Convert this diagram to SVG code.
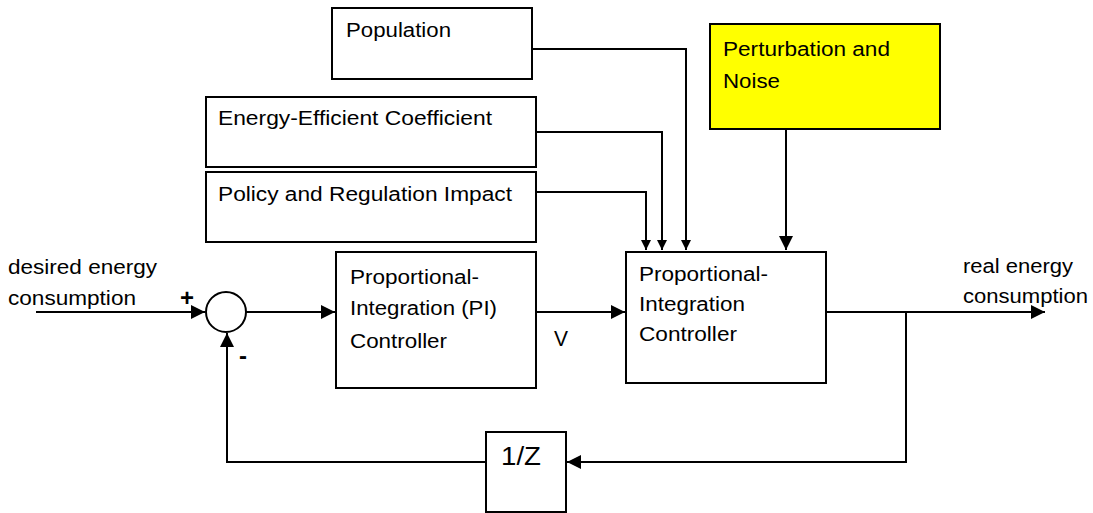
<svg xmlns="http://www.w3.org/2000/svg" width="1093" height="513" viewBox="0 0 1093 513">
<style>
.box{fill:#fff;stroke:#000;stroke-width:2}
.yel{fill:#ffff00;stroke:#000;stroke-width:2}
.ln{fill:none;stroke:#000;stroke-width:2}
text{font-family:"Liberation Sans",Arial,sans-serif;font-size:20px;fill:#000}
</style>
<defs>
<marker id="aS" markerUnits="userSpaceOnUse" markerWidth="12" markerHeight="12" refX="10" refY="5" orient="auto"><path d="M0,0 L10,5 L0,10 z" fill="#000"/></marker>
<marker id="aL" markerUnits="userSpaceOnUse" markerWidth="16" markerHeight="16" refX="14" refY="7" orient="auto"><path d="M0,0 L14,7 L0,14 z" fill="#000"/></marker>
</defs>
<rect width="1093" height="513" fill="#fff"/>
<g id="connectors">
<path class="ln" d="M532,49 H686 V250" marker-end="url(#aS)"/>
<path class="ln" d="M536,132 H662 V250" marker-end="url(#aS)"/>
<path class="ln" d="M536,192 H646 V250" marker-end="url(#aS)"/>
<path class="ln" d="M786,102 V250" marker-end="url(#aL)"/>
<path class="ln" d="M36,312 H205" marker-end="url(#aL)"/>
<path class="ln" d="M246,312 H335" marker-end="url(#aL)"/>
<path class="ln" d="M536,312 H625" marker-end="url(#aL)"/>
<path class="ln" d="M826,312 H1045" marker-end="url(#aL)"/>
<path class="ln" d="M906,312 V462 H567" marker-end="url(#aL)"/>
<path class="ln" d="M486,462 H227 V333" marker-end="url(#aL)"/>
</g>
<g id="population"><rect class="box" x="332" y="8" width="200" height="71"/><text x="346" y="37" textLength="105" lengthAdjust="spacingAndGlyphs">Population</text></g>
<g id="energy-efficient"><rect class="box" x="206" y="97" width="330" height="70"/><text x="218" y="125" textLength="274" lengthAdjust="spacingAndGlyphs">Energy-Efficient Coefficient</text></g>
<g id="policy"><rect class="box" x="206" y="172" width="330" height="70"/><text x="218" y="201" textLength="294" lengthAdjust="spacingAndGlyphs">Policy and Regulation Impact</text></g>
<g id="perturbation"><rect class="yel" x="710" y="24" width="230" height="105"/><text x="723" y="56" textLength="167" lengthAdjust="spacingAndGlyphs">Perturbation and</text><text x="723" y="88" textLength="57" lengthAdjust="spacingAndGlyphs">Noise</text></g>
<g id="sum"><circle cx="226" cy="312" r="20" fill="#fff" stroke="#000" stroke-width="2"/><text x="187" y="306" text-anchor="middle" style="font-size:24px;font-weight:bold">+</text><text x="239" y="364" style="font-size:24px;font-weight:bold">-</text></g>
<g id="pi-controller"><rect class="box" x="336" y="252" width="200" height="136"/><text x="350" y="284" textLength="129" lengthAdjust="spacingAndGlyphs">Proportional-</text><text x="350" y="315" textLength="147" lengthAdjust="spacingAndGlyphs">Integration (PI)</text><text x="350" y="348" textLength="97" lengthAdjust="spacingAndGlyphs">Controller</text></g>
<g id="plant"><rect class="box" x="626" y="252" width="200" height="131"/><text x="639" y="281" textLength="129" lengthAdjust="spacingAndGlyphs">Proportional-</text><text x="639" y="311" textLength="106" lengthAdjust="spacingAndGlyphs">Integration</text><text x="639" y="341" textLength="98" lengthAdjust="spacingAndGlyphs">Controller</text></g>
<g id="delay"><rect class="box" x="486" y="432" width="80" height="80"/><text x="501" y="465" style="font-size:26px" textLength="40" lengthAdjust="spacingAndGlyphs">1/Z</text></g>
<g id="labels">
<text x="554" y="346" style="font-size:22px" textLength="14" lengthAdjust="spacingAndGlyphs">V</text>
<text x="8" y="274" textLength="149" lengthAdjust="spacingAndGlyphs">desired energy</text>
<text x="8" y="305" textLength="128" lengthAdjust="spacingAndGlyphs">consumption</text>
<text x="963" y="273" textLength="110" lengthAdjust="spacingAndGlyphs">real energy</text>
<text x="963" y="303" textLength="125" lengthAdjust="spacingAndGlyphs">consumption</text>
</g>
</svg>
